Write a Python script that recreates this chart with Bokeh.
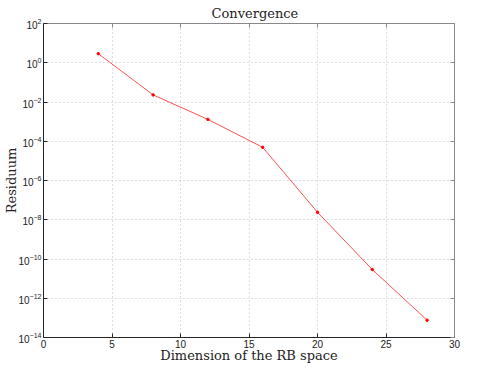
from bokeh.plotting import figure
from bokeh.models import Range1d, FixedTicker, LinearAxis, LogAxis, CustomJSTickFormatter
from bokeh.embed import file_html
from bokeh.resources import INLINE

# Data
dims = [4, 8, 12, 16, 20, 24, 28]
residuum = [2.9, 2.3e-2, 1.3e-3, 4.9e-5, 2.4e-8, 2.9e-11, 7.6e-14]

x_ticks = [0, 5, 10, 15, 20, 25, 30]
y_exps = [2, 0, -2, -4, -6, -8, -10, -12, -14]
y_ticks = [10.0 ** e for e in y_exps]

p = figure(width=463, height=365, y_axis_type="log",
           x_range=Range1d(0, 30), y_range=Range1d(1e-14, 1e2),
           output_backend="svg", toolbar_location=None,
           title="Convergence")
p.min_border_left = 0
p.min_border_right = 9
p.min_border_top = 17
p.min_border_bottom = 0
p.background_fill_color = "white"
p.border_fill_color = "white"
p.outline_line_color = None

p.title.align = "left"
p.title.offset = 168
p.title.text_font = "DejaVu Serif"
p.title.text_font_size = "13px"
p.title.text_font_style = "normal"
p.title.text_color = "#222222"
p.title.standoff = 6

AXC = "#262626"
for ax in [p.xaxis[0], p.yaxis[0]]:
    ax.major_tick_in = 4
    ax.major_tick_out = 0
    ax.minor_tick_line_color = None
    ax.axis_line_color = AXC
    ax.major_tick_line_color = AXC
    ax.major_label_text_font = "Liberation Sans"
    ax.major_label_text_font_size = "10px"
    ax.major_label_text_color = "#222222"
    ax.axis_label_text_font = "DejaVu Serif"
    ax.axis_label_text_font_style = "normal"
    ax.axis_label_text_color = "#222222"

p.xaxis.ticker = FixedTicker(ticks=x_ticks)
p.xaxis.axis_label = "Dimension of the RB space"
p.xaxis.axis_label_text_font_size = "13px"
p.xaxis.major_label_standoff = 2
p.xaxis.axis_label_standoff = -3

p.yaxis.ticker = FixedTicker(ticks=y_ticks)
p.yaxis.axis_label = "Residuum"
p.yaxis.axis_label_text_font_size = "13px"
p.yaxis.major_label_standoff = 2
p.yaxis.axis_label_standoff = -3

blank = CustomJSTickFormatter(code="return ''")
top = LinearAxis(ticker=FixedTicker(ticks=x_ticks), major_tick_in=4, major_tick_out=0,
                 minor_tick_line_color=None, axis_line_color="#888888",
                 major_tick_line_color="#888888", formatter=blank,
                 major_label_standoff=0)
right = LogAxis(ticker=FixedTicker(ticks=y_ticks), major_tick_in=4, major_tick_out=0,
                minor_tick_line_color=None, axis_line_color="#888888",
                major_tick_line_color="#888888", formatter=blank,
                major_label_standoff=0)
p.add_layout(top, "above")
p.add_layout(right, "right")

p.xgrid.ticker = FixedTicker(ticks=x_ticks[1:-1])
p.ygrid.ticker = FixedTicker(ticks=y_ticks[1:-1])
for g in [p.xgrid[0], p.ygrid[0]]:
    g.grid_line_color = "#bdbdbd"
    g.grid_line_dash = "1 3"
    g.grid_line_width = 1

p.line(dims, residuum, line_color="#ff5050", line_width=1)
p.scatter(dims, residuum, size=2.5, color="#ff0000")

open("out.html", "w").write(file_html(p, INLINE))
